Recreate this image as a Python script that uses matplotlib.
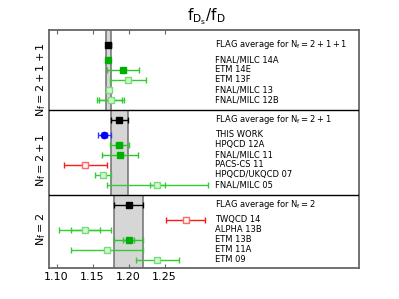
import matplotlib as mpl
import matplotlib.pyplot as plt
import numpy as np

mpl.rcParams.update({
    'font.family': 'DejaVu Sans',
    'mathtext.fontset': 'dejavusans',
    'mathtext.default': 'regular',
    'xtick.labelsize': 8,
})

# Nf labels and FLAG averages per panel
panels = [r'$N_f=2+1+1$', r'$N_f=2+1$', r'$N_f=2$']
flag_val = [1.172, 1.187, 1.20]
flag_err = [0.003, 0.012, 0.02]

# N_f = 2+1+1
names_4 = ['FNAL/MILC 14A', 'ETM 14E', 'ETM 13F', 'FNAL/MILC 13', 'FNAL/MILC 12B']
vals_4 = [1.172, 1.192, 1.199, 1.1725, 1.175]
err_4 = [0.0022, 0.022, 0.025, 0.003, 0.019]
inner_4 = [0, 0, 0, 0, 0.016]
kind_4 = ['filled', 'filled', 'open', 'open', 'open']

# N_f = 2+1
names_3 = ['THIS WORK', 'HPQCD 12A', 'FNAL/MILC 11', 'PACS-CS 11', 'HPQCD/UKQCD 07', 'FNAL/MILC 05']
vals_3 = [1.1665, 1.187, 1.188, 1.14, 1.164, 1.24]
err_3 = [0.0085, 0.013, 0.025, 0.03, 0.011, 0.07]
inner_3 = [0.004, 0.004, 0, 0, 0, 0.01]
kind_3 = ['blue', 'filled', 'filled', 'red', 'open', 'open']

# N_f = 2
names_2 = ['TWQCD 14', 'ALPHA 13B', 'ETM 13B', 'ETM 11A', 'ETM 09']
vals_2 = [1.279, 1.14, 1.20, 1.17, 1.24]
err_2 = [0.027, 0.036, 0.02, 0.05, 0.03]
inner_2 = [0, 0.02, 0.008, 0, 0]
kind_2 = ['red', 'open', 'filled', 'open', 'open']

groups = [
    (names_4, vals_4, err_4, inner_4, kind_4),
    (names_3, vals_3, err_3, inner_3, kind_3),
    (names_2, vals_2, err_2, inner_2, kind_2),
]

styles = {
    'filled': dict(marker='s', mfc='#00b000', mec='#00b000', ecolor='#2ec42e'),
    'open': dict(marker='s', mfc='#d2f5d2', mec='#77dd77', ecolor='#33cc33'),
    'red': dict(marker='s', mfc='#fff4f4', mec='#ff6666', ecolor='#ff1a1a'),
    'blue': dict(marker='o', mfc='#0000ff', mec='#0000ff', ecolor='#3333ff'),
}

fig = plt.figure(figsize=(3.99, 2.99), dpi=100)
ax = fig.add_axes([0.1236, 0.1027, 0.7769, 0.798])

text_x = 1.32
t = 0.0
for p, (names, vals, errs, inner, kinds) in enumerate(groups):
    y_flag = t + 1.0
    ys = t + 2.5 + np.arange(len(names))
    bottom = ys[-1] + 1.0 if p < 2 else ys[-1] + 0.86
    top = t - 0.5 if p == 0 else t

    # FLAG band
    lo, hi = flag_val[p] - flag_err[p], flag_val[p] + flag_err[p]
    ax.fill_betweenx([top, bottom], lo, hi, color='#d6d6d6', lw=0, zorder=1)
    ax.vlines([lo, hi], top, bottom, color='#707070', lw=1.1, zorder=2)

    ax.errorbar(flag_val[p], y_flag, xerr=flag_err[p], fmt='s', color='k',
                ms=4.5, capsize=2, elinewidth=1, zorder=4)
    ax.text(text_x, y_flag, 'FLAG average for ' + panels[p], fontsize=6, va='center')

    for i in range(len(names)):
        st = styles[kinds[i]]
        ax.errorbar(vals[i], ys[i], xerr=errs[i], fmt=st['marker'], mfc=st['mfc'],
                    mec=st['mec'], ecolor=st['ecolor'], ms=4.5, mew=1,
                    capsize=2, elinewidth=1, zorder=4)
        if inner[i] > 0:
            ax.errorbar(vals[i], ys[i], xerr=inner[i], fmt='none', ecolor=st['ecolor'],
                        capsize=2, elinewidth=1, zorder=3)
        ax.text(text_x, ys[i], names[i], fontsize=6, va='center', linespacing=1)

    if p < 2:
        ax.axhline(bottom, color='k', lw=1, zorder=5)

    # Nf label on the left
    ax.text(-0.027, (ys[0] + ys[-1]) / 2 if p < 2 else ys[0] + 1.0, panels[p],
            rotation=90, fontsize=8, ha='center', va='center',
            transform=ax.get_yaxis_transform())
    t = bottom

ax.set_xlim(1.09, 1.52)
ax.set_ylim(t, -0.5)
ax.set_xticks([1.10, 1.15, 1.20, 1.25])
ax.set_xticklabels(['1.10', '1.15', '1.20', '1.25'])
ax.set_yticks([])
ax.tick_params(axis='x', direction='in', top=True, length=3, pad=3, color='#666666')
for s in ax.spines.values():
    s.set_color('#666666')
    s.set_linewidth(1.3)

fig.text(0.518, 0.943, r'$f_{D_s}/f_D$', fontsize=11, ha='center', va='center')

fig.savefig('out.png', dpi=100)
